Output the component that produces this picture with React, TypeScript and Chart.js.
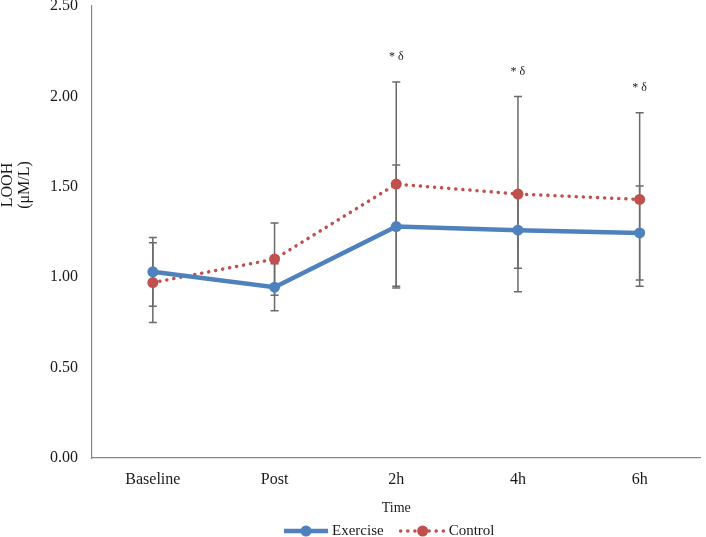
import React, { useEffect, useRef } from "react";
import { Chart, registerables } from "chart.js";

Chart.register(...registerables);

const categories = ["Baseline", "Post", "2h", "4h", "6h"];
const exerciseMean = [1.03, 0.945, 1.28, 1.26, 1.245];
const exerciseSD = [0.19, 0.13, 0.34, 0.21, 0.26];
const controlMean = [0.97, 1.1, 1.515, 1.46, 1.43];
const controlSD = [0.22, 0.2, 0.565, 0.54, 0.48];
const significance = ["", "", "* δ", "* δ", "* δ"];
const yMin = 0;
const yMax = 2.5;
const yStep = 0.5;
const yTitleLines = ["LOOH", "(μM/L)"];
const xTitle = "Time";
const seriesNames = ["Exercise", "Control"];

const FONT = "'Liberation Serif', 'Times New Roman', serif";
const BLUE = "#4F81BD";
const RED = "#C0504D";
const AXIS = "#868686";
const ERR = "#6a6a6a";
const TEXT = "#1a1a1a";

const errorBarsPlugin = {
  id: "errorBars",
  beforeDatasetsDraw(chart: any) {
    const { ctx } = chart;
    const y = chart.scales.y;
    ctx.save();
    ctx.strokeStyle = ERR;
    ctx.lineWidth = 1.5;
    chart.data.datasets.forEach((ds: any, i: number) => {
      const meta = chart.getDatasetMeta(i);
      meta.data.forEach((pt: any, j: number) => {
        const v = ds.data[j];
        const sd = ds.sd[j];
        const yt = y.getPixelForValue(v + sd);
        const yb = y.getPixelForValue(v - sd);
        const px = pt.x;
        ctx.beginPath();
        ctx.moveTo(px, yt);
        ctx.lineTo(px, yb);
        ctx.moveTo(px - 4, yt);
        ctx.lineTo(px + 4, yt);
        ctx.moveTo(px - 4, yb);
        ctx.lineTo(px + 4, yb);
        ctx.stroke();
      });
    });
    ctx.restore();
  },
};

const annotationPlugin = {
  id: "sigMarks",
  afterDatasetsDraw(chart: any) {
    const { ctx } = chart;
    const x = chart.scales.x;
    const y = chart.scales.y;
    ctx.save();
    ctx.fillStyle = TEXT;
    ctx.font = `12px ${FONT}`;
    ctx.textAlign = "center";
    ctx.textBaseline = "middle";
    significance.forEach((s, j) => {
      if (!s) return;
      const top = Math.max(controlMean[j] + controlSD[j], exerciseMean[j] + exerciseSD[j]);
      ctx.fillText(s, x.getPixelForValue(j), y.getPixelForValue(top) - 25);
    });
    ctx.restore();
  },
};

const yTitlePlugin = {
  id: "yTitle",
  afterDraw(chart: any) {
    const { ctx } = chart;
    ctx.save();
    ctx.fillStyle = TEXT;
    ctx.font = `16px ${FONT}`;
    ctx.textAlign = "center";
    ctx.textBaseline = "middle";
    const cy = 185;
    yTitleLines.forEach((t, i) => {
      ctx.save();
      ctx.translate(8 + i * 17, cy);
      ctx.rotate(-Math.PI / 2);
      ctx.fillText(t, 0, 0);
      ctx.restore();
    });
    ctx.restore();
  },
};

const legendPlugin = {
  id: "customLegend",
  afterDraw(chart: any) {
    const { ctx, chartArea } = chart;
    ctx.save();
    ctx.font = `15px ${FONT}`;
    ctx.textBaseline = "middle";
    const lineLen = 44;
    const gap = 4;
    const itemGap = 17;
    const widths = seriesNames.map((n) => ctx.measureText(n).width);
    const total = widths.reduce((a, w) => a + lineLen + gap + w, 0) + itemGap;
    let x0 = (chartArea.left + chartArea.right) / 2 - 7 - total / 2;
    const yy = 531;
    chart.data.datasets.forEach((ds: any, i: number) => {
      ctx.save();
      ctx.strokeStyle = ds.borderColor;
      ctx.lineWidth = ds.borderWidth;
      ctx.lineCap = ds.borderCapStyle || "butt";
      ctx.setLineDash(ds.borderDash || []);
      ctx.beginPath();
      ctx.moveTo(x0, yy);
      ctx.lineTo(x0 + lineLen, yy);
      ctx.stroke();
      ctx.setLineDash([]);
      ctx.fillStyle = ds.pointBackgroundColor;
      ctx.beginPath();
      ctx.arc(x0 + lineLen / 2, yy, ds.pointRadius, 0, Math.PI * 2);
      ctx.fill();
      ctx.restore();
      ctx.fillStyle = TEXT;
      ctx.textAlign = "left";
      ctx.fillText(seriesNames[i], x0 + lineLen + gap, yy);
      x0 += lineLen + gap + widths[i] + itemGap;
    });
    ctx.restore();
  },
};

export default function App() {
  const canvasRef = useRef<HTMLCanvasElement | null>(null);

  useEffect(() => {
    if (!canvasRef.current) return;
    const chart = new Chart(canvasRef.current, {
      type: "line",
      data: {
        labels: categories,
        datasets: [
          {
            label: seriesNames[0],
            data: exerciseMean,
            sd: exerciseSD,
            borderColor: BLUE,
            backgroundColor: BLUE,
            borderWidth: 4.5,
            pointRadius: 5.5,
            pointHoverRadius: 5.5,
            pointBackgroundColor: BLUE,
            pointBorderColor: BLUE,
            pointBorderWidth: 0,
            tension: 0,
          } as any,
          {
            label: seriesNames[1],
            data: controlMean,
            sd: controlSD,
            borderColor: RED,
            backgroundColor: RED,
            borderWidth: 3.5,
            borderDash: [0.1, 7],
            borderCapStyle: "round",
            pointRadius: 5.5,
            pointHoverRadius: 5.5,
            pointBackgroundColor: RED,
            pointBorderColor: RED,
            pointBorderWidth: 0,
            tension: 0,
          } as any,
        ],
      },
      options: {
        animation: false,
        responsive: true,
        maintainAspectRatio: false,
        layout: { padding: { left: 0, right: 4, top: 0, bottom: 0 } },
        plugins: {
          legend: { display: false },
          tooltip: { enabled: false },
        },
        scales: {
          x: {
            type: "category",
            offset: true,
            grid: { display: false, drawTicks: false },
            border: { display: true, color: AXIS, width: 1.2 },
            ticks: {
              color: TEXT,
              font: { family: FONT, size: 16 },
              padding: 12,
              maxRotation: 0,
            },
            title: {
              display: true,
              text: xTitle,
              color: TEXT,
              font: { family: FONT, size: 14 },
              padding: { top: 0, bottom: 20 },
            },
            afterFit(s: any) {
              s.height = 79;
            },
          },
          y: {
            min: yMin,
            max: yMax,
            grid: { display: false, drawTicks: false },
            border: { display: true, color: AXIS, width: 1.2 },
            ticks: {
              stepSize: yStep,
              color: TEXT,
              font: { family: FONT, size: 16 },
              padding: 14,
              callback: (v: any) => Number(v).toFixed(2),
            },
            afterFit(s: any) {
              s.width = 92;
              s.paddingTop = 6;
            },
          },
        },
      } as any,
      plugins: [errorBarsPlugin, annotationPlugin, yTitlePlugin, legendPlugin],
    });
    return () => chart.destroy();
  }, []);

  return (
    <div style={{ position: "fixed", left: 0, top: 0, width: 706, height: 537, background: "#fff" }}>
      <canvas ref={canvasRef} />
    </div>
  );
}
